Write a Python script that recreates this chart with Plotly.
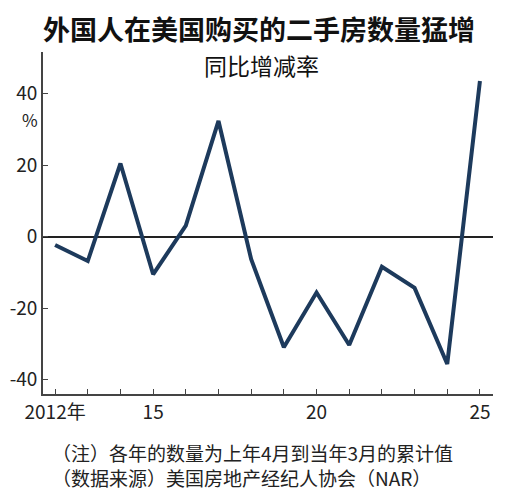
import plotly.graph_objects as go

# year-on-year change (%) of existing homes bought by foreigners in the US
years = list(range(2012, 2026))
change_pct = [-2.3, -6.8, 20.5, -10.5, 3.1, 32.4, -6.3,
              -30.9, -15.6, -30.3, -8.4, -14.3, -35.6, 43.6]

y_ticks = [-40, -20, 0, 20, 40]
x_tick_labels = {2012: "2012年", 2015: "15", 2020: "20", 2025: "25"}

notes = ["（注）各年的数量为上年4月到当年3月的累计值",
         "（数据来源）美国房地产经纪人协会（NAR）"]

NUM_FONT = "Liberation Sans Narrow, Noto Sans CJK SC, sans-serif"
CJK_FONT = "Noto Sans CJK SC, sans-serif"

# page body has an 8px margin, so the figure is 490x484 and all positions are offset by 8
OFF = 8
W, H = 490, 484
# plot area in screen pixels: x 43..493, y 52..394
L, R, T, B = 43 - OFF, 493 - OFF, 52 - OFF, 394 - OFF


def px_x(x):
    return (x - OFF - L) / (R - L)


def px_y(y):
    return (B - (y - OFF)) / (B - T)


fig = go.Figure()
fig.add_trace(go.Scatter(
    x=years, y=change_pct,
    mode="lines",
    line=dict(color="#1d3a5c", width=4),
    showlegend=False,
))

fig.update_xaxes(
    range=[2011.63, 2025.4],
    tickvals=years,
    ticktext=[x_tick_labels.get(y, "") for y in years],
    ticks="inside", ticklen=5, tickwidth=1.2, tickcolor="#444",
    showline=True, linecolor="#444", linewidth=1.6,
    showgrid=False, zeroline=False, automargin=False,
    tickfont=dict(family=NUM_FONT, size=19, color="#222"),
)
fig.update_yaxes(
    range=[-44, 51.7],
    tickvals=y_ticks,
    ticktext=[str(v) for v in y_ticks],  # plain hyphen like the original
    ticks="inside", ticklen=5, tickwidth=1.2, tickcolor="#444",
    showline=True, linecolor="#444", linewidth=1.6,
    showgrid=False, automargin=False,
    zeroline=True, zerolinecolor="#222", zerolinewidth=1.5,
    tickfont=dict(family=NUM_FONT, size=19, color="#222"),
)

fig.add_annotation(text="<b>外国人在美国购买的二手房数量猛增</b>",
                   xref="paper", yref="paper", x=px_x(259), y=px_y(28),
                   showarrow=False, xanchor="center", yanchor="middle",
                   font=dict(family=CJK_FONT, size=27, color="#111"))
fig.add_annotation(text="同比增减率",
                   xref="paper", yref="paper", x=px_x(261), y=px_y(65),
                   showarrow=False, xanchor="center", yanchor="middle",
                   font=dict(family=CJK_FONT, size=23, color="#111"))
fig.add_annotation(text="%",
                   xref="paper", yref="paper", x=px_x(30), y=px_y(119),
                   showarrow=False, xanchor="center", yanchor="middle",
                   font=dict(family=NUM_FONT, size=17, color="#222"))
for i, line in enumerate(notes):
    fig.add_annotation(text=line,
                       xref="paper", yref="paper", x=px_x(50), y=px_y(452 + 26 * i),
                       showarrow=False, xanchor="left", yanchor="middle", align="left",
                       font=dict(family=CJK_FONT, size=19, color="#222"))

fig.update_layout(
    width=W, height=H,
    margin=dict(l=L, r=W - R, t=T, b=H - B),
    paper_bgcolor="white", plot_bgcolor="white",
)

fig.write_html("out.html")
